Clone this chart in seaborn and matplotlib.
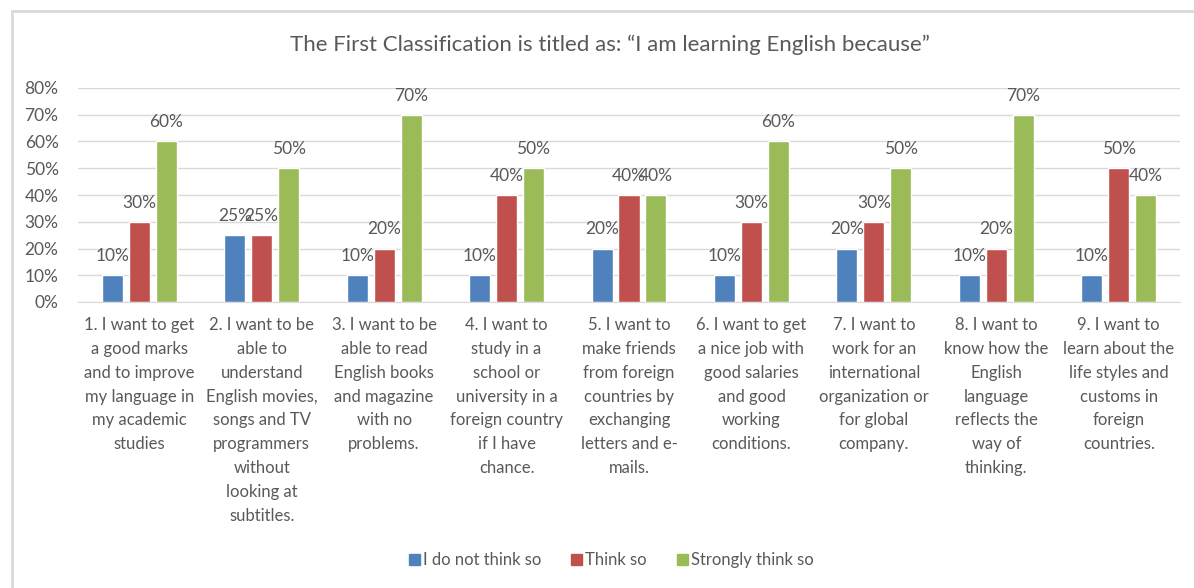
import matplotlib
matplotlib.use("Agg")
import matplotlib.pyplot as plt
from matplotlib.patches import Rectangle
from matplotlib.ticker import PercentFormatter
import seaborn as sns
import pandas as pd

categories = [
    "1. I want to get\na good marks\nand to improve\nmy language in\nmy academic\nstudies",
    "2. I want to be\nable to\nunderstand\nEnglish movies,\nsongs and TV\nprogrammers\nwithout\nlooking at\nsubtitles.",
    "3. I want to be\nable to read\nEnglish books\nand magazine\nwith no\nproblems.",
    "4. I want to\nstudy in a\nschool or\nuniversity in a\nforeign country\nif I have\nchance.",
    "5. I want to\nmake friends\nfrom foreign\ncountries by\nexchanging\nletters and e-\nmails.",
    "6. I want to get\na nice job with\ngood salaries\nand good\nworking\nconditions.",
    "7. I want to\nwork for an\ninternational\norganization or\nfor global\ncompany.",
    "8. I want to\nknow how the\nEnglish\nlanguage\nreflects the\nway of\nthinking.",
    "9. I want to\nlearn about the\nlife styles and\ncustoms in\nforeign\ncountries.",
]
series = ["I do not think so", "Think so", "Strongly think so"]
do_not_think = [0.10, 0.25, 0.10, 0.10, 0.20, 0.10, 0.20, 0.10, 0.10]
think = [0.30, 0.25, 0.20, 0.40, 0.40, 0.30, 0.30, 0.20, 0.50]
strongly = [0.60, 0.50, 0.70, 0.50, 0.40, 0.60, 0.50, 0.70, 0.40]
yticks = [0, 0.1, 0.2, 0.3, 0.4, 0.5, 0.6, 0.7, 0.8]
title = "The First Classification is titled as: \u201cI am learning English because\u201d"

colors = ["#4F81BD", "#C0504D", "#9BBB59"]
txt = "#595959"

rows = []
for s, vals in zip(series, [do_not_think, think, strongly]):
    for c, v in zip(categories, vals):
        rows.append({"cat": c, "series": s, "value": v})
df = pd.DataFrame(rows)

sns.set_style("white")
plt.rcParams["font.family"] = ["Lato", "DejaVu Sans"]

fig = plt.figure(figsize=(11.94, 5.88), dpi=100)
ax = fig.add_axes([78 / 1194, 1 - 302 / 588, (1180 - 78) / 1194, (302 - 88) / 588])

sns.barplot(data=df, x="cat", y="value", hue="series", order=categories,
            hue_order=series, palette=colors, width=0.66, gap=0.22,
            ax=ax, legend=False, saturation=1)

for cont in ax.containers:
    ax.bar_label(cont, labels=[f"{b.get_height()*100:.0f}%" for b in cont],
                 padding=8, color=txt, fontsize=12.5)

ax.set_ylim(0, 0.8)
ax.set_yticks(yticks)
ax.yaxis.set_major_formatter(PercentFormatter(1.0, decimals=0))
ax.grid(axis="y", color="#D9D9D9", linewidth=1)
ax.set_axisbelow(True)
for sp in ["top", "right", "left"]:
    ax.spines[sp].set_visible(False)
ax.spines["bottom"].set_color("#D9D9D9")
ax.tick_params(axis="y", length=0, pad=14, labelsize=12.5, labelcolor=txt)
ax.tick_params(axis="x", length=0, pad=11, labelsize=12, labelcolor=txt)
ax.set_xlabel("")
ax.set_ylabel("")
for lab in ax.get_xticklabels():
    lab.set_linespacing(1.6)
    lab.set_horizontalalignment("center")

fig.text(0.511, 1 - 45 / 588, title, ha="center", va="center",
         fontsize=16, color=txt)

handles = [Rectangle((0, 0), 1, 1, color=c) for c in colors]
fig.legend(handles, series, loc="center", bbox_to_anchor=(0.512, 1 - 560 / 588),
           ncol=3, frameon=False, fontsize=12, labelcolor=txt,
           handlelength=0.65, handleheight=0.65, handletextpad=0.2,
           columnspacing=1.8)

fig.patches.append(Rectangle((12 / 1194, -0.1), 1.2, 1 - 11 / 588 + 0.1,
                             transform=fig.transFigure, fill=False,
                             edgecolor="#D9D9D9", linewidth=2, zorder=-1))

fig.savefig("out.png", dpi=100)
